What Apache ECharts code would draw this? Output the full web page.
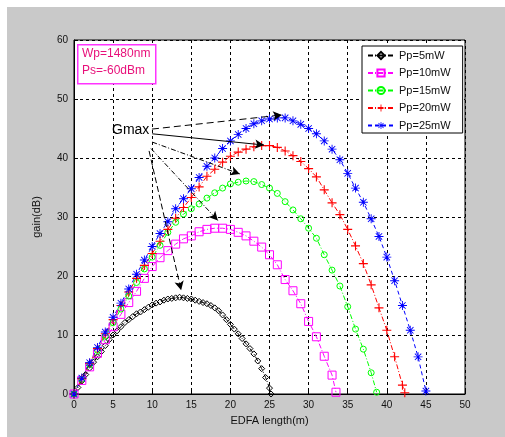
<!DOCTYPE html>
<html>
<head>
<meta charset="utf-8">
<script src="https://cdn.jsdelivr.net/npm/echarts@6/dist/echarts.min.js"></script>
<style>html,body{margin:0;padding:0;background:#fff;}#c{width:505px;height:437px;}</style>
</head>
<body>
<div id="c"></div>
<script>
// ---- data ----
const seriesNames = ["Pp=5mW", "Pp=10mW", "Pp=15mW", "Pp=20mW", "Pp=25mW"];
const xTicks = [0, 5, 10, 15, 20, 25, 30, 35, 40, 45, 50];
const yTicks = [0, 10, 20, 30, 40, 50, 60];

const len5 = [0,0.5,1,1.5,2,2.5,3,3.5,4,4.5,5,5.5,6,6.5,7,7.5,8,8.5,9,9.5,10,10.5,11,11.5,12,12.5,13,13.5,14,14.5,15,15.5,16,16.5,17,17.5,18,18.5,19,19.5,20,20.5,21,21.5,22,22.5,23,23.5,24,24.5,25,25.2];
const gain5 = [0,1.1,2.2,3.3,4.4,5.4,6.3,7.2,8.2,9.2,10,10.7,11.4,12.1,12.6,13.1,13.6,13.9,14.3,14.7,15.1,15.4,15.6,15.9,16.1,16.2,16.3,16.4,16.3,16.2,16.1,15.9,15.7,15.5,15.3,15,14.6,14.1,13.4,12.6,11.8,11,10.2,9.4,8.5,7.7,6.8,5.6,4.3,2.8,1,0];

const len10 = [0,1,2,3,4,5,6,7,8,9,10,11,12,13,14,15,16,17,18,19,20,21,22,23,24,25,26,27,28,29,30,31,32,33,33.5];
const gain10 = [0,2.3,4.6,6.9,9.2,11.4,13.5,15.5,17.4,19.6,21.6,23.1,24.3,25.4,26.3,26.8,27.5,27.9,28.1,28.1,27.9,27.4,26.8,25.9,24.9,23.6,21.9,19.4,17.5,15.3,12.3,9.7,6.4,3.2,0.3];

const len15 = [0,1,2,3,4,5,6,7,8,9,10,11,12,13,14,15,16,17,18,19,20,21,22,23,24,25,26,27,28,29,30,31,32,33,34,35,36,37,38,38.7];
const gain15 = [0,2.5,5,7.4,9.8,12.1,14.4,16.6,18.9,21.2,23.2,25.2,27.4,29.1,30.5,31.4,32.2,33.2,34.1,34.9,35.6,35.9,36.1,36,35.5,34.9,34,32.6,31.2,29.7,28.1,26.4,23.6,21,18.3,14.8,11,7.6,3.6,0.3];

const len20 = [0,1,2,3,4,5,6,7,8,9,10,11,12,13,14,15,16,17,18,19,20,21,22,23,24,25,26,27,28,29,30,31,32,33,34,35,36,37,38,39,40,41,42,42.3];
const gain20 = [0,2.6,5.2,7.7,10.2,12.6,15,17.3,19.6,21.8,23.8,25.9,27.9,29.8,31.6,33.3,35.1,36.9,38.1,39.3,40.3,41,41.5,41.9,42.1,42.1,41.8,41.2,40.4,39.4,38.2,36.8,34.6,32.4,30.4,27.9,25.1,22.1,18.5,14.6,10.8,6.3,1.5,0.2];

const len25 = [0,1,2,3,4,5,6,7,8,9,10,11,12,13,14,15,16,17,18,19,20,21,22,23,24,25,26,27,28,29,30,31,32,33,34,35,36,37,38,39,40,41,42,43,44,45];
const gain25 = [0,2.7,5.3,7.9,10.5,13,15.4,17.8,20.3,22.7,25,27.2,29.2,31.4,33.1,34.8,36.7,38.6,40,41.6,42.9,44,45,45.8,46.3,46.6,46.8,46.8,46.3,45.7,45,44.1,42.9,41.5,39.7,37.4,34.9,32.5,29.7,26.7,23.2,19.2,15,10.8,6.3,0.5];

// Gmax arrows: [startL, startG, endL, endG]
const gmaxArrows = [
  [9.97, 44.9, 26.6, 47.3],
  [10.0, 44.1, 24.3, 42.2],
  [10.0, 42.7, 21.2, 37.3],
  [9.85, 41.6, 18.4, 29.4],
  [9.6, 41.2, 13.7, 17.6]
];
const annoLines = ["Wp=1480nm", "Ps=-60dBm"];

// ---- chart ----
function pairs(xs, ys) { return xs.map((x, i) => [x, ys[i]]); }
const dashDot = [5, 2, 1, 2];
const plusPath = 'path://M4.4,0H5.6V4.4H10V5.6H5.6V10H4.4V5.6H0V4.4H4.4Z';
const starPath = 'path://M4.5,0H5.5V4.5H10V5.5H5.5V10H4.5V5.5H0V4.5H4.5Z M1.8,1.1L5,4.3L8.2,1.1L8.9,1.8L5.7,5L8.9,8.2L8.2,8.9L5,5.7L1.8,8.9L1.1,8.2L4.3,5L1.1,1.8Z';
const arrowStyles = [
  { type: [7, 4], width: 1 },
  { type: 'solid', width: 1 },
  { type: dashDot, width: 1 },
  { type: dashDot, width: 1 },
  { type: [6, 3], width: 1 }
];

const chart = echarts.init(document.getElementById('c'), null, { renderer: 'canvas' });
const option = {
  backgroundColor: '#c9c9c9',
  animation: false,
  textStyle: { fontFamily: 'Liberation Sans, Arial, sans-serif' },
  grid: { left: 74, top: 40, right: 40, bottom: 43, show: true, backgroundColor: '#fff', borderColor: '#000', borderWidth: 1 },
  xAxis: {
    type: 'value', min: xTicks[0], max: xTicks[xTicks.length - 1], interval: 5,
    name: 'EDFA length(m)', nameLocation: 'middle', nameGap: 21,
    nameTextStyle: { fontSize: 11, color: '#111' },
    axisLine: { lineStyle: { color: '#000', width: 1 } },
    axisTick: { inside: true, length: 4, lineStyle: { color: '#000' } },
    axisLabel: { fontSize: 10, color: '#111', margin: 6 },
    splitLine: { show: true, lineStyle: { color: '#000', type: [3, 3], width: 1 } }
  },
  yAxis: {
    type: 'value', min: yTicks[0], max: yTicks[yTicks.length - 1], interval: 10,
    name: 'gain(dB)', nameLocation: 'middle', nameGap: 32,
    nameTextStyle: { fontSize: 11, color: '#111' },
    axisLine: { show: true, lineStyle: { color: '#000', width: 1 } },
    axisTick: { show: true, inside: true, length: 4, lineStyle: { color: '#000' } },
    axisLabel: { fontSize: 10, color: '#111', margin: 6 },
    splitLine: { show: true, lineStyle: { color: '#000', type: [3, 3], width: 1 } }
  },
  legend: {
    orient: 'vertical', left: 362, top: 46,
    padding: [4, 12, 2, 5], itemGap: 6.5, itemWidth: 26, itemHeight: 9,
    backgroundColor: '#fff', borderColor: '#000', borderWidth: 1, borderRadius: 0,
    textStyle: { fontSize: 11, color: '#111' },
    data: seriesNames
  },
  series: [
    {
      name: seriesNames[0], type: 'line', data: pairs(len5, gain5),
      symbol: 'diamond', symbolSize: 6,
      itemStyle: { color: 'rgba(255,255,255,0)', borderColor: '#000', borderWidth: 1 },
      lineStyle: { color: '#000', width: 1, type: dashDot },
      markLine: {
        silent: true, symbol: ['none', 'arrow'], symbolSize: [7, 9],
        label: { show: false },
        data: gmaxArrows.map((a, i) => [
          { coord: [a[0], a[1]], lineStyle: Object.assign({ color: '#000' }, arrowStyles[i]) },
          { coord: [a[2], a[3]] }
        ])
      },
      z: 3
    },
    {
      name: seriesNames[1], type: 'line', data: pairs(len10, gain10),
      symbol: 'rect', symbolSize: 8,
      itemStyle: { color: 'rgba(255,255,255,0)', borderColor: '#ff00ff', borderWidth: 1 },
      lineStyle: { color: '#ff00ff', width: 1, type: dashDot },
      z: 3
    },
    {
      name: seriesNames[2], type: 'line', data: pairs(len15, gain15),
      symbol: 'circle', symbolSize: 6,
      itemStyle: { color: 'rgba(255,255,255,0)', borderColor: '#00ff00', borderWidth: 1 },
      lineStyle: { color: '#00ff00', width: 1, type: dashDot },
      z: 3
    },
    {
      name: seriesNames[3], type: 'line', data: pairs(len20, gain20),
      symbol: plusPath, symbolSize: 9,
      itemStyle: { color: '#ff0000' },
      lineStyle: { color: '#ff0000', width: 1, type: dashDot },
      z: 3
    },
    {
      name: seriesNames[4], type: 'line', data: pairs(len25, gain25),
      symbol: starPath, symbolSize: 9,
      itemStyle: { color: '#0000ff' },
      lineStyle: { color: '#0000ff', width: 1, type: [4, 3] },
      z: 3
    }
  ],
  graphic: [
    { type: 'rect', left: 0, top: 0, shape: { width: 505, height: 7 }, style: { fill: '#fff' }, z: -1 },
    { type: 'rect', left: 0, top: 0, shape: { width: 7, height: 437 }, style: { fill: '#fff' }, z: -1 },
    { type: 'rect', left: 77, top: 44, shape: { width: 78, height: 39 }, style: { fill: '#fff', stroke: '#ff33ff', lineWidth: 1.5 }, z: 10 },
    { type: 'text', left: 82, top: 48, style: { text: annoLines[0], fill: '#e8107a', font: '12px Liberation Sans, Arial, sans-serif' }, z: 11 },
    { type: 'text', left: 82, top: 65, style: { text: annoLines[1], fill: '#e8107a', font: '12px Liberation Sans, Arial, sans-serif' }, z: 11 },
    { type: 'text', left: 112, top: 123, style: { text: 'Gmax', fill: '#000', font: '14px Liberation Sans, Arial, sans-serif' }, z: 11 }
  ]
};
chart.setOption(option);
</script>
</body>
</html>
